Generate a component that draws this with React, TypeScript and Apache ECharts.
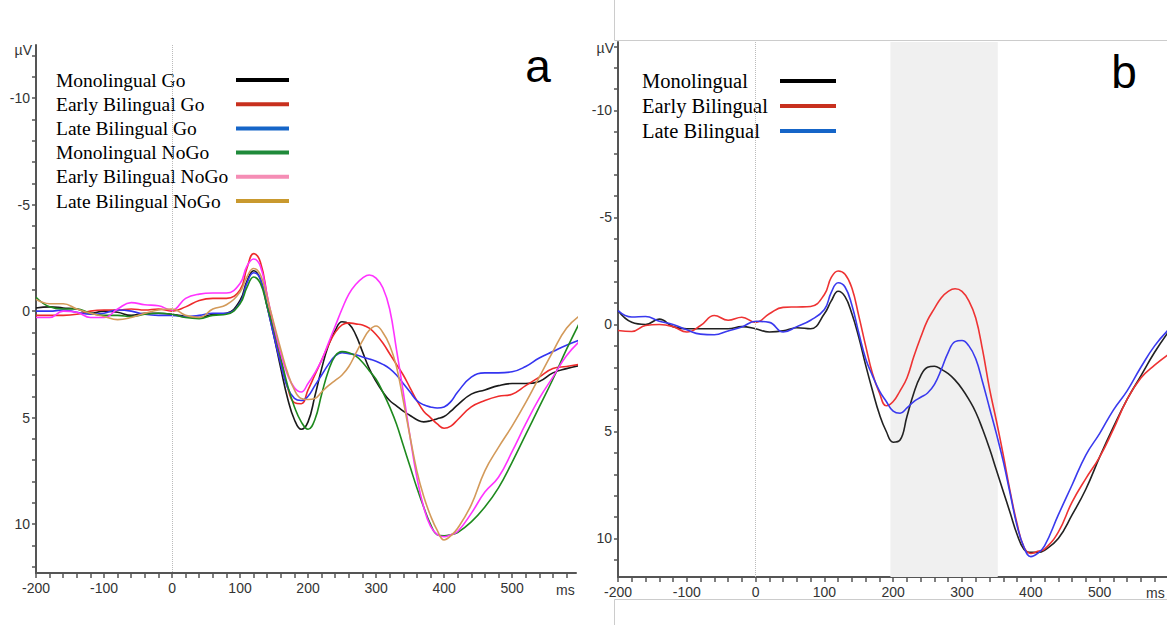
import React, { useEffect, useRef } from "react";
import * as echarts from "echarts";

// time points (ms)
const T = [-200,-180,-160,-140,-120,-100,-80,-60,-40,-20,0,20,40,60,80,100,
  110,120,130,140,150,160,170,180,190,200,210,220,230,240,250,260,270,280,290,300,310,320,330,340,350,360,370,380,390,400,410,420,
  440,460,480,500,520,540,560,580,600];

// Panel a (µV)
const aMonoGo = [-0.15,-0.2,-0.15,-0.1,0.1,0.0,0.05,0.2,0.1,0.1,0.15,0.25,0.3,0.15,0.1,-0.5,
  -1.4,-1.9,-1.5,-0.2,1.2,2.7,4.1,5.1,5.55,5.2,4.0,2.7,1.6,0.9,0.5,0.6,1.1,1.9,2.7,3.3,3.8,4.2,4.45,4.7,4.9,5.1,5.2,5.15,5.05,4.95,4.7,4.4,
  3.9,3.7,3.5,3.4,3.4,3.3,2.9,2.7,2.55];
const aEarlyGo = [0.2,0.2,0.2,0.15,0.0,-0.05,-0.05,-0.1,-0.05,-0.1,0.0,-0.2,-0.5,-0.6,-0.6,-1.0,
  -2.0,-2.7,-2.3,-0.7,1.0,2.4,3.6,4.3,4.35,3.7,3.0,2.3,1.6,1.0,0.65,0.55,0.6,0.65,0.8,1.1,1.5,2.0,2.5,3.0,3.6,4.2,4.7,5.0,5.3,5.5,5.4,5.1,
  4.5,4.2,4.0,3.9,3.5,3.1,2.7,2.6,2.5];
const aLateGo = [0.0,0.0,-0.05,0.05,0.15,0.1,-0.05,0.0,0.15,0.2,0.2,0.25,0.2,0.1,0.1,-0.4,
  -1.3,-1.8,-1.5,-0.2,1.2,2.5,3.6,4.1,4.2,4.0,3.5,3.0,2.5,2.1,1.95,2.0,2.05,2.15,2.25,2.35,2.5,2.7,3.0,3.4,3.8,4.2,4.4,4.5,4.55,4.5,4.25,3.8,
  3.1,2.9,2.9,2.85,2.6,2.2,1.9,1.6,1.35];
const aMonoNoGo = [-0.65,-0.2,-0.1,-0.1,0.1,0.2,0.2,0.25,0.15,0.1,0.15,0.3,0.35,0.2,0.15,-0.35,
  -1.1,-1.6,-1.3,-0.2,0.9,2.2,3.5,4.5,5.2,5.55,5.1,3.9,2.8,2.1,1.9,1.95,2.1,2.4,2.8,3.2,3.8,4.5,5.3,6.3,7.3,8.3,9.2,10.0,10.5,10.55,10.5,10.4,
  9.9,9.2,8.3,7.1,5.8,4.5,3.2,1.8,0.5];
const aEarlyNoGo = [0.3,0.3,0.0,0.05,0.3,0.3,-0.1,-0.4,-0.3,-0.25,-0.05,-0.6,-0.8,-0.85,-0.85,-1.3,
  -2.1,-2.45,-2.1,-0.7,0.7,2.0,3.0,3.6,3.8,3.4,2.9,2.3,1.5,0.7,-0.1,-0.8,-1.25,-1.55,-1.7,-1.55,-1.1,-0.1,1.8,3.8,5.9,7.8,9.2,10.1,10.5,10.6,10.5,10.35,
  9.5,8.5,7.8,6.6,5.3,4.1,3.1,2.1,1.4];
const aLateNoGo = [-0.55,-0.35,-0.35,-0.1,0.1,0.25,0.4,0.3,0.1,-0.05,-0.1,0.2,0.3,-0.1,-0.3,-0.9,
  -1.6,-2.0,-1.7,-0.6,0.6,1.8,2.9,3.7,4.1,4.15,4.1,3.8,3.5,3.25,3.0,2.6,2.0,1.4,0.9,0.7,1.0,1.6,2.6,4.2,5.9,7.5,8.7,9.6,10.3,10.75,10.55,10.2,
  9.1,7.5,6.4,5.4,4.3,3.1,1.9,0.8,0.2];

// Panel b (µV)
const bMono = [-0.65,-0.1,0.0,-0.25,0.1,0.2,0.2,0.2,0.2,0.1,0.2,0.35,0.3,0.15,0.2,-0.5,
  -1.1,-1.55,-1.3,-0.5,0.6,1.9,3.1,4.2,5.0,5.5,5.4,4.3,3.2,2.4,2.0,1.95,2.1,2.3,2.6,3.0,3.5,4.1,4.9,5.8,6.8,7.8,8.8,9.8,10.5,10.65,10.65,10.55,
  10.0,8.9,7.7,6.2,4.8,3.5,2.4,1.3,0.35];
const bEarly = [0.28,0.33,0.05,0.0,0.1,0.35,0.05,-0.42,-0.2,-0.34,-0.1,-0.5,-0.8,-0.82,-0.84,-1.4,
  -2.2,-2.5,-2.35,-1.7,-0.4,1.0,2.3,3.2,3.8,3.6,3.1,2.5,1.5,0.6,-0.2,-0.75,-1.25,-1.55,-1.67,-1.55,-1.1,-0.3,1.2,3.0,4.5,6.1,7.8,9.3,10.4,10.7,10.6,10.5,
  9.7,8.3,7.2,6.2,4.9,3.5,2.5,1.9,1.4];
const bLate = [-0.65,-0.35,-0.37,-0.15,0.0,0.25,0.45,0.48,0.3,0.12,-0.15,-0.1,0.35,0.1,-0.2,-0.7,
  -1.5,-1.95,-1.75,-0.9,0.4,1.6,2.4,3.1,3.6,4.05,4.15,3.9,3.6,3.4,3.2,2.8,2.1,1.3,0.8,0.75,1.0,1.6,2.7,3.9,5.1,6.4,7.9,9.4,10.4,10.85,10.7,10.35,
  8.9,7.5,6.1,5.1,4.0,3.1,2.0,1.0,0.25];

const xLabels = [-200, -100, 0, 100, 200, 300, 400, 500];
const xTicks = [-200,-180,-160,-140,-120,-100,-80,-60,-40,-20,0,20,40,60,80,100,120,140,160,180,200,220,240,260,280,300,320,340,360,380,400,420,440,460,480,500,520,540,560,580];
const yLabels = [-10, -5, 0, 5, 10];
const yTicksA = [-12,-11,-10,-9,-8,-7,-6,-5,-4,-3,-2,-1,0,1,2,3,4,5,6,7,8,9,10,11,12];
const yTicksB = [-13,-12,-11,-10,-9,-8,-7,-6,-5,-4,-3,-2,-1,0,1,2,3,4,5,6,7,8,9,10,11];

const legendA = ["Monolingual Go", "Early Bilingual Go", "Late Bilingual Go", "Monolingual NoGo", "Early Bilingual NoGo", "Late Bilingual NoGo"];
const legendAColors = ["#000000", "#c8301e", "#1565c8", "#1f8a3a", "#f58db5", "#c9992e"];
const lineAColors = ["#1a1a1a", "#ee2b2b", "#3434f0", "#1e8a1e", "#ff33ff", "#d39a5a"];
const legendB = ["Monolingual", "Early Bilingual", "Late Bilingual"];
const legendBColors = ["#000000", "#c8301e", "#1565c8"];
const lineBColors = ["#222222", "#ee3333", "#3a3aee"];

const AXIS = "#555";
const LBL = "#333";
const SANS = "'Liberation Sans', Arial, sans-serif";
const SERIF = "'Liberation Serif', 'Times New Roman', serif";

function mkX(grid: number, max: number) {
  return {
    gridIndex: grid, type: "value", min: -200, max,
    axisLine: { onZero: false, lineStyle: { color: AXIS, width: 2 } },
    axisTick: { customValues: xTicks, length: 5, lineStyle: { color: AXIS, width: 1.5 } },
    axisLabel: { customValues: xLabels, color: LBL, fontSize: 14, fontFamily: SANS, margin: 8 },
    splitLine: { show: false },
  };
}
function mkY(grid: number, min: number, max: number, ticks: number[]) {
  return {
    gridIndex: grid, type: "value", inverse: true, min, max,
    axisLine: { onZero: false, lineStyle: { color: AXIS, width: 2 } },
    axisTick: { customValues: ticks, length: 4, lineStyle: { color: AXIS, width: 1.5 } },
    axisLabel: { customValues: yLabels, color: LBL, fontSize: 14, fontFamily: SANS, margin: 6 },
    splitLine: { show: false },
  };
}

function legendGraphics(names: string[], colors: string[], tx: number, y0: number, dy: number, lx1: number, lx2: number, fs: number) {
  const out: any[] = [];
  names.forEach((n, i) => {
    const y = y0 + i * dy;
    out.push({ type: "text", x: tx, y, style: { text: n, font: `${fs}px ${SERIF}`, fill: "#000", align: "left", verticalAlign: "middle", textAlign: "left", textVerticalAlign: "middle" } });
    out.push({ type: "line", shape: { x1: lx1, y1: y, x2: lx2, y2: y }, style: { stroke: colors[i], lineWidth: 4 } });
  });
  return out;
}

export default function App() {
  const ref = useRef<HTMLDivElement>(null);
  useEffect(() => {
    if (!ref.current) return;
    const chart = echarts.init(ref.current, undefined, { renderer: "svg" });
    const seriesA = [aMonoGo, aEarlyGo, aLateGo, aMonoNoGo, aEarlyNoGo, aLateNoGo].map((arr, i) => ({
      name: legendA[i], type: "line", xAxisIndex: 0, yAxisIndex: 0, showSymbol: false, smooth: 0.45,
      data: T.map((t, k) => [t, arr[k]]),
      lineStyle: { color: lineAColors[i], width: 1.6 }, itemStyle: { color: lineAColors[i] },
      markLine: i === 0 ? { silent: true, symbol: ["none", "none"], label: { show: false },
        lineStyle: { type: "dotted", color: "#bbb", width: 1 }, data: [{ xAxis: 0 }] } : undefined,
    }));
    const seriesB = [bMono, bEarly, bLate].map((arr, i) => ({
      name: legendB[i], type: "line", xAxisIndex: 1, yAxisIndex: 1, showSymbol: false, smooth: 0.45,
      data: T.map((t, k) => [t, arr[k]]),
      lineStyle: { color: lineBColors[i], width: 1.6 }, itemStyle: { color: lineBColors[i] },
      markLine: i === 0 ? { silent: true, symbol: ["none", "none"], label: { show: false },
        lineStyle: { type: "dotted", color: "#bbb", width: 1 }, data: [{ xAxis: 0 }] } : undefined,
      markArea: i === 0 ? { silent: true, itemStyle: { color: "#f0f0f0" }, data: [[{ xAxis: 196 }, { xAxis: 352 }]] } : undefined,
    }));
    chart.setOption({
      animation: false,
      grid: [
        { left: 36, top: 45, width: 540, height: 528 },
        { left: 618, top: 42, width: 549, height: 535 },
      ],
      xAxis: [mkX(0, 594), mkX(1, 598)],
      yAxis: [mkY(0, -12.5, 12.3, yTicksA), mkY(1, -13.2, 11.8, yTicksB)],
      series: [...seriesA, ...seriesB],
      graphic: [
        // frame lines of the right panel
        { type: "line", shape: { x1: 614.5, y1: 0, x2: 614.5, y2: 40.5 }, style: { stroke: "#ccc", lineWidth: 1 } },
        { type: "line", shape: { x1: 614.5, y1: 40.5, x2: 1167, y2: 40.5 }, style: { stroke: "#ccc", lineWidth: 1 } },
        { type: "line", shape: { x1: 614.5, y1: 599.5, x2: 1167, y2: 599.5 }, style: { stroke: "#ccc", lineWidth: 1 } },
        { type: "line", shape: { x1: 614.5, y1: 599.5, x2: 614.5, y2: 625 }, style: { stroke: "#ccc", lineWidth: 1 } },
        // unit labels
        { type: "text", x: 32, y: 50, style: { text: "µV", font: `14px ${SANS}`, fill: LBL, align: "right", verticalAlign: "middle", textAlign: "right", textVerticalAlign: "middle" } },
        { type: "text", x: 614, y: 48, style: { text: "µV", font: `14px ${SANS}`, fill: LBL, align: "right", verticalAlign: "middle", textAlign: "right", textVerticalAlign: "middle" } },
        { type: "text", x: 556, y: 590, style: { text: "ms", font: `14px ${SANS}`, fill: LBL, align: "left", verticalAlign: "middle", textAlign: "left", textVerticalAlign: "middle" } },
        { type: "text", x: 1146, y: 593, style: { text: "ms", font: `14px ${SANS}`, fill: LBL, align: "left", verticalAlign: "middle", textAlign: "left", textVerticalAlign: "middle" } },
        // panel letters
        { type: "text", x: 538, y: 66, style: { text: "a", font: `46px ${SANS}`, fill: "#000", align: "center", verticalAlign: "middle", textAlign: "center", textVerticalAlign: "middle" } },
        { type: "text", x: 1124, y: 72, style: { text: "b", font: `46px ${SANS}`, fill: "#000", align: "center", verticalAlign: "middle", textAlign: "center", textVerticalAlign: "middle" } },
        ...legendGraphics(legendA, legendAColors, 56, 80, 24.2, 236, 289, 19.5),
        ...legendGraphics(legendB, legendBColors, 642, 81, 25, 780, 836, 20.5),
      ],
    });
    return () => chart.dispose();
  }, []);
  return <div ref={ref} style={{ position: "absolute", left: 0, top: 0, width: 1167, height: 625, background: "#fff" }} />;
}
